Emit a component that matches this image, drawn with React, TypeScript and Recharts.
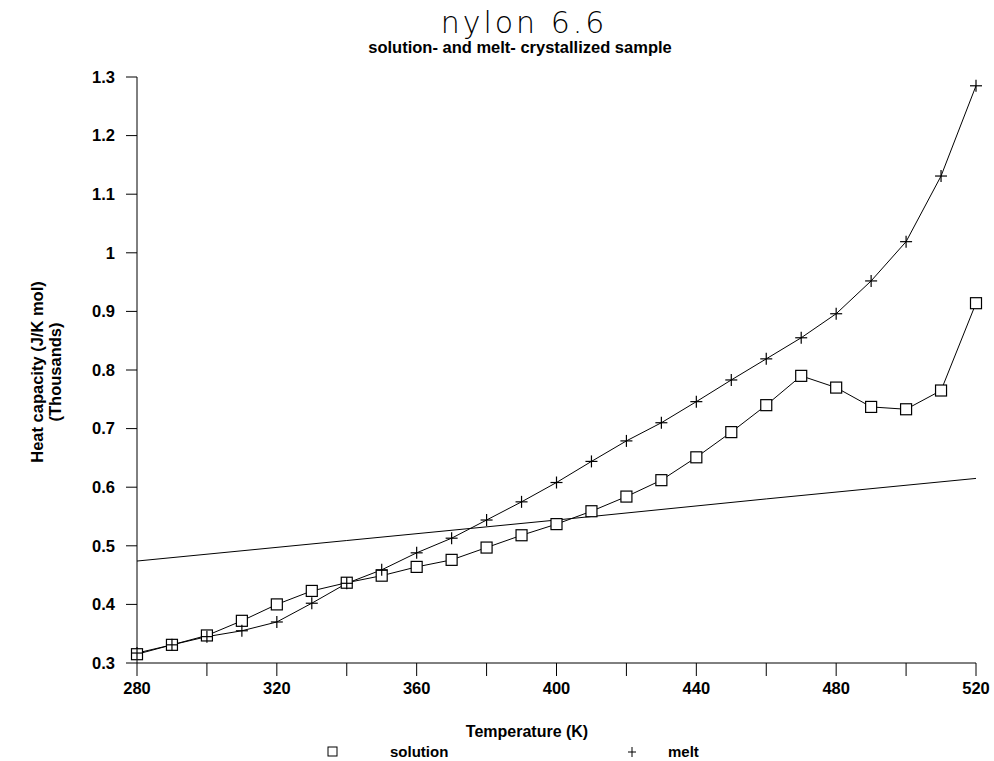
import { LineChart, Line, XAxis, YAxis } from "recharts";

// Temperatures (K) at which heat capacity was measured
const temps = [
  280, 290, 300, 310, 320, 330, 340, 350, 360, 370, 380, 390, 400,
  410, 420, 430, 440, 450, 460, 470, 480, 490, 500, 510, 520,
];

// Heat capacity in thousands of J/K mol
const solution = [
  0.315, 0.331, 0.347, 0.372, 0.4, 0.423, 0.437, 0.449, 0.464, 0.476, 0.497, 0.518, 0.537,
  0.559, 0.584, 0.612, 0.651, 0.694, 0.74, 0.79, 0.77, 0.737, 0.733, 0.765, 0.914,
];
const melt = [
  0.317, 0.331, 0.345, 0.355, 0.37, 0.402, 0.436, 0.459, 0.488, 0.513, 0.544, 0.575, 0.608,
  0.644, 0.679, 0.71, 0.746, 0.783, 0.819, 0.855, 0.896, 0.952, 1.019, 1.131, 1.285,
];

// solid-state baseline, drawn without markers
const baseTemps = [280, 340, 400, 460, 520];
const baseline = [0.474, 0.509, 0.544, 0.58, 0.615];

const xTicks = [280, 300, 320, 340, 360, 380, 400, 420, 440, 460, 480, 500, 520];
const yTicks = [0.3, 0.4, 0.5, 0.6, 0.7, 0.8, 0.9, 1.0, 1.1, 1.2, 1.3];

const data = temps.map((t, i) => {
  const b = baseTemps.indexOf(t);
  return {
    t,
    solution: solution[i],
    melt: melt[i],
    baseline: b >= 0 ? baseline[b] : null,
  };
});

const boldFont = "'Liberation Sans', Arial, sans-serif";

const SquareDot = (props: any) => {
  const { cx, cy } = props;
  if (cx == null || cy == null) return null;
  return <rect x={cx - 5.5} y={cy - 5.5} width={11} height={11} fill="#fff" stroke="#000" strokeWidth={1.2} />;
};

const CrossDot = (props: any) => {
  const { cx, cy } = props;
  if (cx == null || cy == null) return null;
  return (
    <g stroke="#000" strokeWidth={1.2}>
      <line x1={cx - 6} y1={cy} x2={cx + 6} y2={cy} />
      <line x1={cx} y1={cy - 6} x2={cx} y2={cy + 6} />
    </g>
  );
};

const tickStyle = { fill: "#000", fontSize: 16.5, fontWeight: 700, fontFamily: boldFont };

export default function App() {
  return (
    <div style={{ position: "relative", width: 994, height: 761, background: "#fff", fontFamily: boldFont, overflow: "hidden" }}>
      {/* full-bleed page, and let the last x tick label run past the svg edge */}
      <style>{"body { margin: 0; } .recharts-surface { overflow: visible; }"}</style>
      <div
        style={{
          position: "absolute", left: 0, width: 1048, top: 5, textAlign: "center",
          fontFamily: "'DejaVu Sans', sans-serif", fontWeight: 200, fontSize: 30, letterSpacing: 3,
        }}
      >
        nylon 6.6
      </div>
      <div
        style={{
          position: "absolute", left: 0, width: 1040, top: 38, textAlign: "center",
          fontWeight: 700, fontSize: 16.5,
        }}
      >
        solution- and melt- crystallized sample
      </div>

      <LineChart width={994} height={761} data={data} margin={{ top: 77, right: 18, bottom: 58, left: 77 }}>
        <XAxis
          dataKey="t"
          type="number"
          domain={[280, 520]}
          ticks={xTicks}
          tickFormatter={(v: number) => ((v - 280) % 40 === 0 ? String(v) : "")}
          interval={0}
          height={40}
          tickSize={13}
          tickMargin={6}
          axisLine={{ stroke: "#000" }}
          tickLine={{ stroke: "#000" }}
          tick={tickStyle}
        />
        <XAxis xAxisId="top" orientation="top" type="number" dataKey="t" domain={[280, 520]} height={0} tick={false} tickLine={false} axisLine={{ stroke: "#000" }} />
        <YAxis
          type="number"
          domain={[0.3, 1.3]}
          ticks={yTicks}
          interval={0}
          width={60}
          tickSize={11}
          tickMargin={11}
          tickFormatter={(v: number) => String(+v.toFixed(1))}
          axisLine={{ stroke: "#000" }}
          tickLine={{ stroke: "#000" }}
          tick={tickStyle}
        />
        <YAxis yAxisId="right" orientation="right" type="number" domain={[0.3, 1.3]} width={0} tick={false} tickLine={false} axisLine={{ stroke: "#000" }} />
        <Line type="linear" dataKey="baseline" stroke="#000" strokeWidth={1} dot={false} connectNulls isAnimationActive={false} />
        <Line type="linear" dataKey="solution" stroke="#000" strokeWidth={1} dot={<SquareDot />} isAnimationActive={false} />
        <Line type="linear" dataKey="melt" stroke="#000" strokeWidth={1} dot={<CrossDot />} isAnimationActive={false} />
      </LineChart>

      {/* y axis title, two rotated lines */}
      <div
        style={{
          position: "absolute", left: 46 - 150, top: 372 - 18, width: 300, textAlign: "center",
          transform: "rotate(-90deg)", fontWeight: 700, fontSize: 16.5, lineHeight: "18px",
        }}
      >
        Heat capacity (J/K mol)
        <br />
        (Thousands)
      </div>

      <div style={{ position: "absolute", left: 0, width: 1054, top: 723, textAlign: "center", fontWeight: 700, fontSize: 16 }}>
        Temperature (K)
      </div>

      {/* legend */}
      <svg style={{ position: "absolute", left: 327, top: 746 }} width={12} height={12}>
        <rect x={1} y={1} width={9} height={9} fill="none" stroke="#000" strokeWidth={1} />
      </svg>
      <div style={{ position: "absolute", left: 390, top: 743, fontWeight: 700, fontSize: 15, lineHeight: "17px" }}>solution</div>
      <svg style={{ position: "absolute", left: 626, top: 746 }} width={12} height={12}>
        <line x1={6} y1={1} x2={6} y2={11} stroke="#000" strokeWidth={1} />
        <line x1={2} y1={6} x2={10} y2={6} stroke="#000" strokeWidth={1} />
      </svg>
      <div style={{ position: "absolute", left: 668, top: 743, fontWeight: 700, fontSize: 15, lineHeight: "17px" }}>melt</div>
    </div>
  );
}
